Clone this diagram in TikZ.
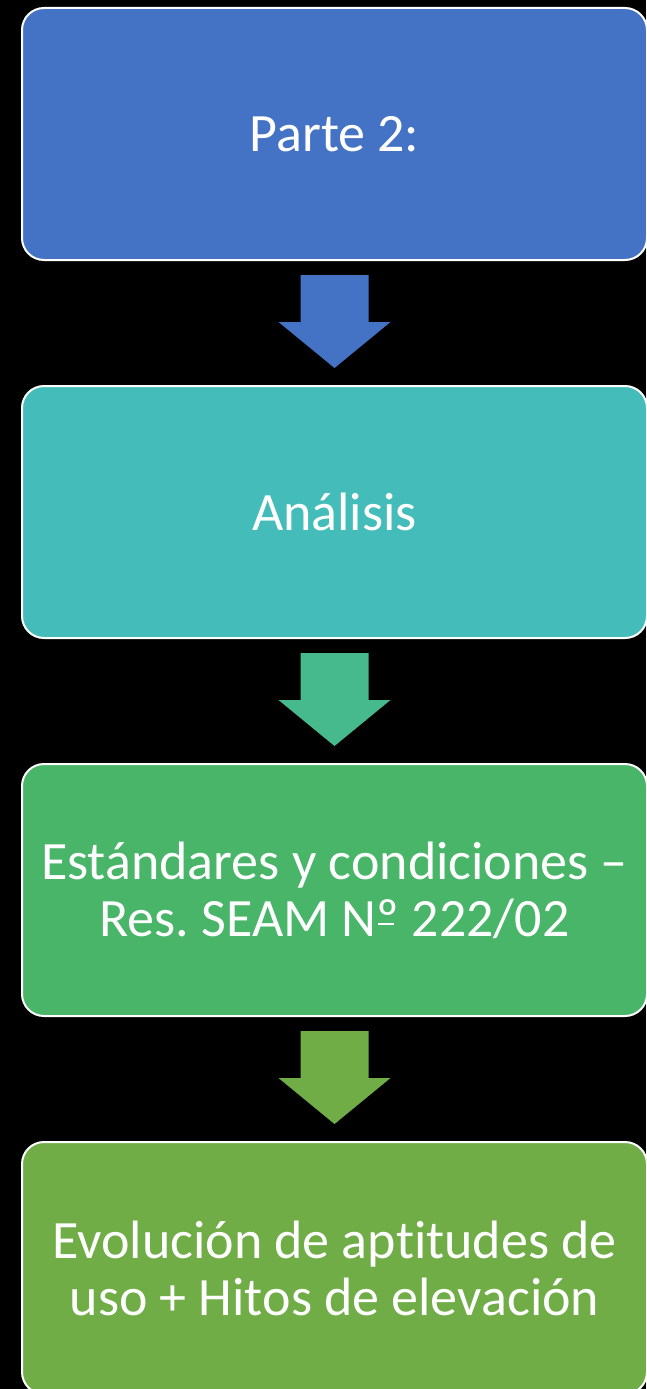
\documentclass[tikz,border=0pt]{standalone}
\usepackage{fontspec}
\setmainfont[Ligatures=NoCommon]{Carlito}
\usetikzlibrary{positioning}
\frenchspacing

\definecolor{azul}{RGB}{68,114,196}
\definecolor{turquesa}{RGB}{68,189,186}
\definecolor{verdeagua}{RGB}{70,186,140}
\definecolor{verde}{RGB}{72,181,104}
\definecolor{verdeoliva}{RGB}{112,173,71}

\tikzset{caja/.style={draw=white, line width=2pt, rounded corners=22pt,
  minimum width=625pt, minimum height=252pt, text=white, align=center,
  font=\fontsize{54}{57}\selectfont}}

% flecha gruesa hacia abajo bajo una caja
\newcommand{\flecha}[2]{\fill[#2, shift={(#1.south)}] (-34,14) -- (34,14) -- (34,61) -- (56,61) -- (0,107) -- (-56,61) -- (-34,61) -- cycle;}
\newcommand{\numero}{N\makebox[0pt][l]{\hspace{0.02em}\rule[0.2em]{0.3em}{0.05em}}º}

\begin{document}
\begin{tikzpicture}[x=1pt,y=-1pt]
\fill[black] (0,0) rectangle (646,1389);
\useasboundingbox (0,0) rectangle (646,1389);
\node[caja, fill=azul] (parte) at (334.5,134) {Parte 2:};
\node[caja, fill=turquesa, below=124pt of parte] (analisis) {Análisis};
\node[caja, fill=verde, below=124pt of analisis] (estandares) {Estándares y condiciones –\\Res. SEAM \numero{} 222/02};
\node[caja, fill=verdeoliva, below=124pt of estandares] (evolucion) {Evolución de aptitudes de\\uso + Hitos de elevación};
\flecha{parte}{azul}
\flecha{analisis}{verdeagua}
\flecha{estandares}{verdeoliva}
\end{tikzpicture}
\end{document}
